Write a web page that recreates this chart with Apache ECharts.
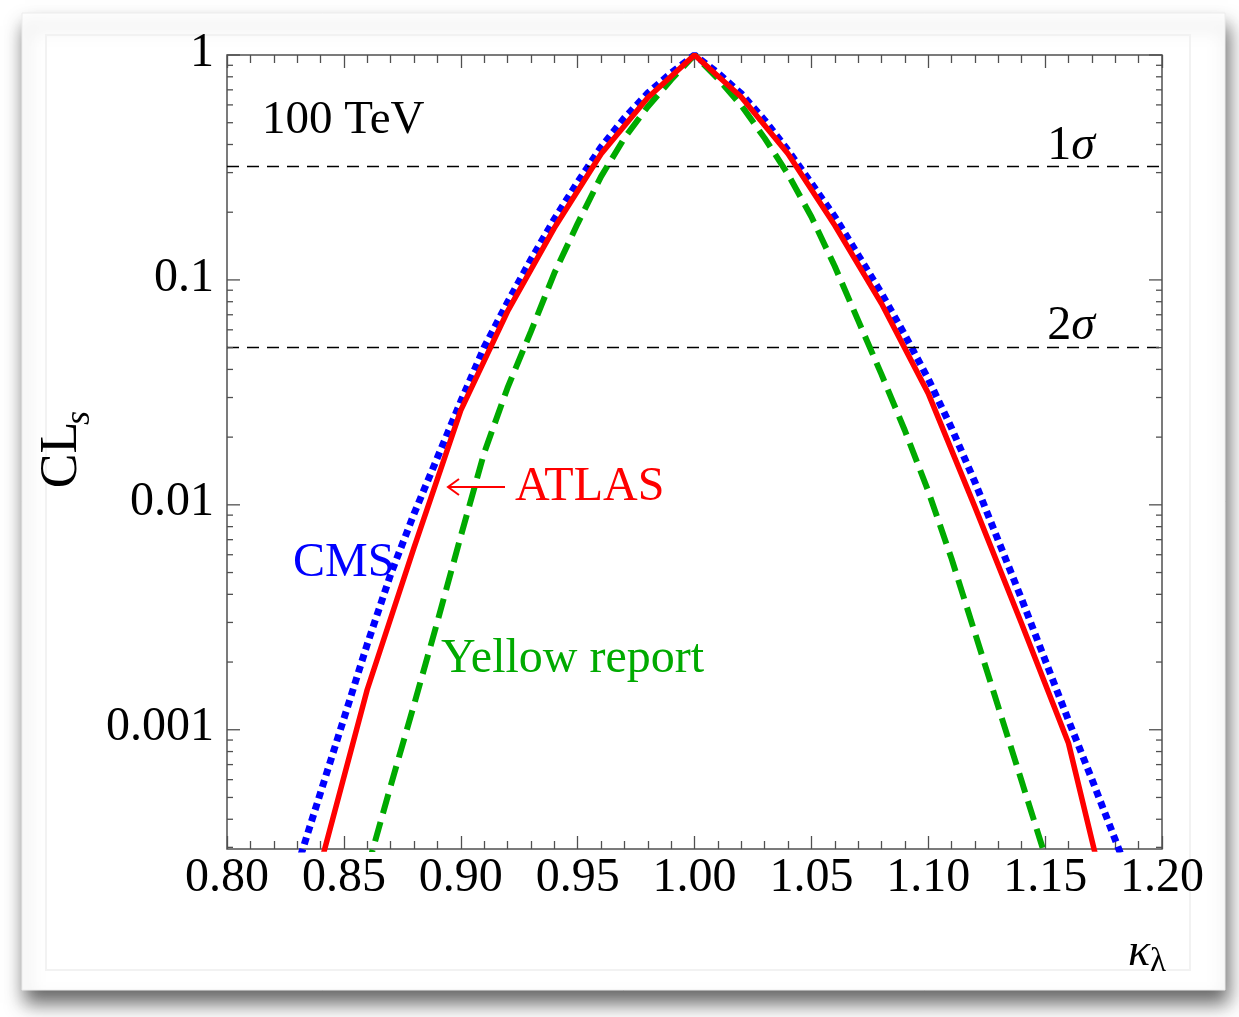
<!DOCTYPE html>
<html>
<head>
<meta charset="utf-8">
<script src="https://cdn.jsdelivr.net/npm/echarts@6/dist/echarts.min.js"></script>
<style>
html,body{margin:0;padding:0;background:#fff;}
#chart{width:1239px;height:1017px;}
</style>
</head>
<body>
<div id="chart"></div>
<script>
// ---- data ----
const kappaATLAS = [0.84,0.86,0.88,0.90,0.92,0.94,0.96,0.98,1.00,1.02,1.04,1.06,1.08,1.10,1.12,1.14,1.16,1.18];
const clsATLAS   = [0.000251,0.00151,0.00646,0.0263,0.0724,0.170,0.363,0.646,1,0.650,0.364,0.175,0.0785,0.0313,0.00977,0.00295,0.000871,0.000120];

const kappaCMS = [0.83,0.84,0.85,0.86,0.87,0.88,0.89,0.90,0.91,0.92,0.93,0.94,0.95,0.96,0.97,0.98,0.99,1.00,
                  1.01,1.02,1.03,1.04,1.05,1.06,1.07,1.08,1.09,1.10,1.11,1.12,1.13,1.14,1.15,1.16,1.17,1.18,1.19];
const clsCMS   = [0.000245,0.000525,0.00112,0.00240,0.00490,0.00912,0.0162,0.0288,0.0501,0.0794,0.123,0.186,0.272,0.389,0.525,0.676,0.832,1,
                  0.832,0.673,0.513,0.377,0.269,0.191,0.129,0.0871,0.0569,0.0363,0.0219,0.0126,0.00692,0.00380,0.00204,0.00110,0.000603,0.000324,0.000174];

const kappaYR = [0.86,0.87,0.88,0.89,0.90,0.91,0.92,0.93,0.94,0.95,0.96,0.97,0.98,0.99,1.00,
                 1.01,1.02,1.03,1.04,1.05,1.06,1.07,1.08,1.09,1.10,1.11,1.12,1.13,1.14,1.15];
const clsYR   = [0.000240,0.000562,0.00129,0.00302,0.00724,0.0170,0.0331,0.0589,0.107,0.178,0.288,0.427,0.589,0.776,1,
                 0.785,0.597,0.427,0.295,0.191,0.115,0.0661,0.0380,0.0214,0.0115,0.00575,0.00269,0.00126,0.000589,0.000275];

const sigmaLevels = [0.317, 0.05];
const sigmaLabels = ['1', '2'];

const yMajorValues = [1, 0.1, 0.01, 0.001];
const yMajorLabels = ['1', '0.1', '0.01', '0.001'];
const yMinorMultipliers = [2,3,4,5,6,7,8,9];
const yDecades = [0.0001, 0.001, 0.01, 0.1];

const xMin = 0.80, xMax = 1.20, xStep = 0.05;
const yMin = 0.000295, yMax = 1;

// ---- build ----
const pairs = (xs, ys) => xs.map((x, i) => [x, ys[i]]);
const SERIF = '"Liberation Serif", "Times New Roman", serif';

const yTickData = [];
yMajorValues.forEach(v => yTickData.push([1.0, v, 1]));
yDecades.forEach(d => yMinorMultipliers.forEach(m => {
  const v = +(m * d).toPrecision(6);
  if (v >= yMin && v < yMax) yTickData.push([1.0, v, 0]);
}));

const chart = echarts.init(document.getElementById('chart'));

const option = {
  backgroundColor: '#ffffff',
  animation: false,
  grid: { left: 227, right: 77, top: 55, bottom: 168, show: true, borderColor: '#505050', borderWidth: 1.5, backgroundColor: 'transparent', z: 3 },
  xAxis: [
    {
      type: 'value', min: xMin, max: xMax, interval: xStep, position: 'bottom',
      axisLine: { show: false },
      axisTick: { show: true, inside: true, length: 13, lineStyle: { color: '#505050', width: 1.3 } },
      minorTick: { show: true, splitNumber: 5, length: 8, lineStyle: { color: '#505050', width: 1.3 } },
      splitLine: { show: false },
      axisLabel: { show: true, margin: 5, color: '#000', fontFamily: SERIF, fontSize: 48, formatter: v => v.toFixed(2) }
    },
    {
      type: 'value', min: xMin, max: xMax, interval: xStep, position: 'top',
      axisLine: { show: false },
      axisTick: { show: true, inside: true, length: 13, lineStyle: { color: '#505050', width: 1.3 } },
      minorTick: { show: true, splitNumber: 5, length: 8, lineStyle: { color: '#505050', width: 1.3 } },
      splitLine: { show: false },
      axisLabel: { show: false }
    }
  ],
  yAxis: [
    {
      type: 'log', logBase: 10, min: yMin, max: yMax,
      axisLine: { show: false }, axisTick: { show: false }, axisLabel: { show: false },
      splitLine: { show: false }, minorTick: { show: false }
    }
  ],
  graphic: [
    { type: 'rect', z: -10, shape: { x: 22, y: 13, width: 1203, height: 977 },
      style: { fill: '#ffffff', stroke: '#ececec', lineWidth: 1, shadowBlur: 18, shadowOffsetX: 3, shadowOffsetY: 13, shadowColor: 'rgba(0,0,0,0.6)' } },
    { type: 'rect', z: -9, shape: { x: 46, y: 35, width: 1144, height: 935 },
      style: { fill: 'none', stroke: '#f2f2f2', lineWidth: 2 } },
    { type: 'text', z: 100, x: 262, y: 121, style: { text: '100 TeV', font: '47px ' + SERIF, fill: '#000', align: 'left', verticalAlign: 'middle' } },
    { type: 'text', z: 100, x: 1095, y: 146, style: { text: '{n|' + sigmaLabels[0] + '}{s|σ}', align: 'right', verticalAlign: 'middle',
        rich: { n: { font: '48px ' + SERIF, fill: '#000' }, s: { font: 'italic 48px ' + SERIF, fill: '#000' } } } },
    { type: 'text', z: 100, x: 1095, y: 326, style: { text: '{n|' + sigmaLabels[1] + '}{s|σ}', align: 'right', verticalAlign: 'middle',
        rich: { n: { font: '48px ' + SERIF, fill: '#000' }, s: { font: 'italic 48px ' + SERIF, fill: '#000' } } } },
    { type: 'text', z: 100, x: 515, y: 487, style: { text: 'ATLAS', font: '48px ' + SERIF, fill: '#ff0000', align: 'left', verticalAlign: 'middle' } },
    { type: 'line', z: 100, shape: { x1: 505, y1: 487, x2: 448, y2: 487 }, style: { stroke: '#ff0000', lineWidth: 2 } },
    { type: 'polyline', z: 100, shape: { points: [[459, 479], [448, 487], [459, 495]] }, style: { stroke: '#ff0000', lineWidth: 2, fill: 'none' } },
    { type: 'text', z: 100, x: 293, y: 563, style: { text: 'CMS', font: '48px ' + SERIF, fill: '#0000ff', align: 'left', verticalAlign: 'middle' } },
    { type: 'text', z: 100, x: 441, y: 659, style: { text: 'Yellow report', font: '48px ' + SERIF, fill: '#00aa00', align: 'left', verticalAlign: 'middle' } },
    { type: 'text', z: 100, x: 62, y: 455, rotation: Math.PI / 2, style: { text: 'CL', font: '52px ' + SERIF, fill: '#000', align: 'center', verticalAlign: 'middle' } },
    { type: 'text', z: 100, x: 80, y: 418, rotation: Math.PI / 2, style: { text: 's', font: 'italic 36px ' + SERIF, fill: '#000', align: 'center', verticalAlign: 'middle' } },
    { type: 'text', z: 100, x: 1139, y: 953, style: { text: 'κ', font: 'italic 46px ' + SERIF, fill: '#000', align: 'center', verticalAlign: 'middle' } },
    { type: 'text', z: 100, x: 1158, y: 962, style: { text: 'λ', font: '33px ' + SERIF, fill: '#000', align: 'center', verticalAlign: 'middle' } }
  ],
  series: [
    {
      name: 'CMS', type: 'line', data: pairs(kappaCMS, clsCMS), showSymbol: false, z: 4, clip: true,
      lineStyle: { color: '#0000ff', width: 7, type: [7, 5], cap: 'butt' }
    },
    {
      name: 'Yellow report', type: 'line', data: pairs(kappaYR, clsYR), showSymbol: false, z: 5, clip: true,
      lineStyle: { color: '#00aa00', width: 6, type: [20, 9], cap: 'butt' }
    },
    {
      name: 'ATLAS', type: 'line', data: pairs(kappaATLAS, clsATLAS), showSymbol: false, z: 6, clip: true,
      lineStyle: { color: '#ff0000', width: 5.5, type: 'solid' },
      markLine: {
        silent: true, symbol: ['none', 'none'], animation: false,
        label: { show: false },
        lineStyle: { color: '#000', width: 1.4, type: [12, 8] },
        data: sigmaLevels.map(v => ({ yAxis: v }))
      }
    },
    {
      name: 'yticks', type: 'custom', data: yTickData, z: 7, silent: true, clip: false,
      encode: { x: 0, y: 1 },
      renderItem: function (params, api) {
        const v = api.value(1);
        const major = api.value(2) === 1;
        const len = major ? 13 : 6;
        const pL = api.coord([xMin, v]);
        const pR = api.coord([xMax, v]);
        const st = { stroke: '#505050', lineWidth: 1.3 };
        return { type: 'group', children: [
          { type: 'line', shape: { x1: pL[0], y1: pL[1], x2: pL[0] + len, y2: pL[1] }, style: st },
          { type: 'line', shape: { x1: pR[0], y1: pR[1], x2: pR[0] - len, y2: pR[1] }, style: st }
        ] };
      }
    },
    {
      name: 'ylabels', type: 'custom', data: yMajorValues.map(v => [xMin, v]), z: 7, silent: true, clip: false,
      encode: { x: 0, y: 1 },
      renderItem: function (params, api) {
        const p = api.coord([api.value(0), api.value(1)]);
        return { type: 'text', x: p[0] - 13, y: p[1] - 2,
          style: { text: yMajorLabels[params.dataIndex], font: '48px ' + SERIF, fill: '#000', align: 'right', verticalAlign: 'middle' } };
      }
    }
  ]
};
chart.setOption(option);
</script>
</body>
</html>
